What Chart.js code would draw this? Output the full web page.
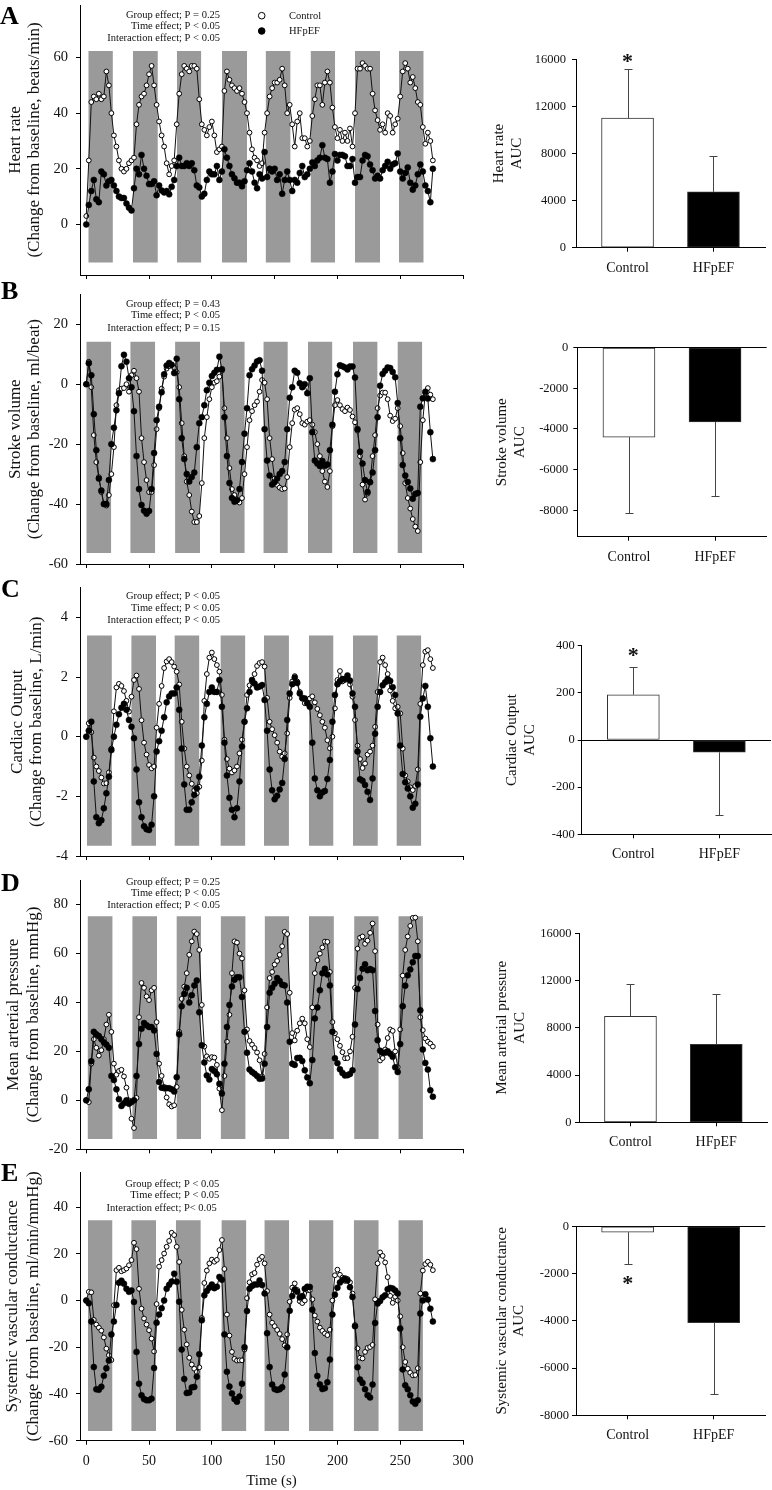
<!DOCTYPE html>
<html><head><meta charset="utf-8">
<script src="https://cdn.jsdelivr.net/npm/chart.js@4.4.1/dist/chart.umd.min.js"></script>
<style>
html,body{margin:0;padding:0;background:#fff;}
body{width:772px;height:1490px;position:relative;overflow:hidden;}
canvas{position:absolute;}
.letter{position:absolute;font:bold 26px "Liberation Serif","Times New Roman",serif;line-height:26px;color:#000;z-index:5;}
</style></head><body>
<canvas id="lA" width="480" height="290" style="left:0;top:0"></canvas>
<canvas id="bA" width="302" height="290" style="left:470px;top:0"></canvas>
<canvas id="lB" width="480" height="290" style="left:0;top:290px"></canvas>
<canvas id="bB" width="302" height="290" style="left:470px;top:290px"></canvas>
<canvas id="lC" width="480" height="290" style="left:0;top:580px"></canvas>
<canvas id="bC" width="302" height="290" style="left:470px;top:580px"></canvas>
<canvas id="lD" width="480" height="290" style="left:0;top:870px"></canvas>
<canvas id="bD" width="302" height="290" style="left:470px;top:870px"></canvas>
<canvas id="lE" width="480" height="330" style="left:0;top:1160px"></canvas>
<canvas id="bE" width="302" height="330" style="left:470px;top:1160px"></canvas>
<div class="letter" style="left:0;top:3px">A</div>
<div class="letter" style="left:1px;top:278px">B</div>
<div class="letter" style="left:1px;top:576px">C</div>
<div class="letter" style="left:1px;top:870px">D</div>
<div class="letter" style="left:1px;top:1160px">E</div>
<script>
const time = [0,2,4,6,8,10,12,14,16,18,20,22,24,26,28,30,32,34,36,38,40,42,44,46,48,50,52,54,56,58,60,62,64,66,68,70,72,74,76,78,80,82,84,86,88,90,92,94,96,98,100,102,104,106,108,110,112,114,116,118,120,122,124,126,128,130,132,134,136,138,140,142,144,146,148,150,152,154,156,158,160,162,164,166,168,170,172,174,176,178,180,182,184,186,188,190,192,194,196,198,200,202,204,206,208,210,212,214,216,218,220,222,224,226,228,230,232,234,236,238,240,242,244,246,248,250,252,254,256,258,260,262,264,266,268,270,272,274,276];

const hrControl = [3,23,44,46,45,47,45,46,55,50,40,32,28,23,20,19,20,22,23,24,36,43,46,47,50,54,57,50,43,37,32,28,22,18,21,23,36,47,54,57,56,55,57,57,56,45,36,34,32,35,37,32,26,27,28,48,55,52,50,49,48,49,47,44,40,33,27,24,23,21,22,33,40,46,49,51,51,52,56,50,40,43,36,28,37,40,31,31,28,30,39,45,50,50,43,51,55,51,42,35,31,34,30,33,30,34.5,28,40,56,56,58,57,56,56,47,41,37.5,34,36,33,40,39,33,36,38,46,55,58,56,51,53,49,44,43,35,29,33,30,23];
const hrHFpEF = [0,7,12,16,9,8,19,18,14,15.5,16,14,12,10,9.5,9.5,7.5,6,5,13,20,18,25,20,17.5,14.5,14.5,15.5,10.5,14,12.2,11.5,12,10.8,13.5,16,21,24,21,21,22,21,22,19.5,14,13.3,10,11,16,19,18,18,21,16,19,27,24,21,18,16.6,15,15,13.7,15.5,19.5,22,19,15,13,18,16.5,26,17,20,19,20,16,18,11,16,19,16,12,16,15,18.5,21,17,18,20,22.3,21,23,24,28.5,24,23.5,15,19,25.3,23,25,25,24.5,21,21,23.5,15,17,17,23,25,24.5,21.5,19.5,16.5,17.5,16.5,19.5,21,22.5,20,21.5,22,25.5,19,16.5,18.5,20.5,15,12.5,14,18,21.5,19,14,12,8,20];

const svControl = [0,7.5,-1,-17,-26,-31,-36,-40,-40.5,-37,-30,-21,-7,-2,-1.5,-1.3,0,-2.5,3,4.5,2,-2.5,-18,-26,-32,-36,-36,-27,-15,-8,-1.5,2.5,5.2,6,6.3,5.5,4,-1,-13,-24,-32.5,-37,-42.5,-46,-46,-44,-33,-18,-11,-5,-1,0.5,1,2.5,4.5,-8,-18,-28,-35,-37,-39,-39.5,-38,-30,-21,-12,-9,-7,-5.8,-2.5,1.4,0.5,-5,-18,-25,-31.5,-33.6,-34.5,-35,-34.8,-31,-21,-13,-8.5,-8,-10,-13,-13.5,-12.5,-12,-13.5,-16,-20,-24,-29,-32.5,-34.3,-29,-14,-7,-5.3,-7,-8.3,-9,-7.8,-8.6,-10.8,-12.7,-15.5,-24,-33.5,-38.5,-36.5,-32.5,-24,-17,-8,-3.8,-2.8,-2.8,-5,-10.5,-12.3,-11.5,-8,-14,-23,-33,-38,-41.5,-45,-47.5,-49,-26,-12,-3,-1.3,-3.5,-5];
const svHFpEF = [0,7,3,-10,-22,-31.5,-35.5,-40,-40,-32,-20,-14.5,-8.7,-3,6,9.8,7.5,2,-1,-9,-24,-35,-40.3,-42.2,-43.2,-42.3,-35,-23,-12,-7.5,-2.7,3.3,6.2,7.1,6.5,3.7,8.5,-5,-18,-25,-30,-32.5,-31,-29.5,-21,-13,-11,-7,-2,0.5,2.7,3.8,4.8,9.2,5,-11,-24,-33,-38,-39.2,-38.7,-35,-26,-16.5,-8,3,5,6.2,7.6,8,4.5,-15,-25.5,-30.5,-33.5,-32.7,-31.5,-30,-29,-26,-15,-4.5,-1,4.5,3.8,0.3,-1,0,-3,2,-16,-25.5,-26.5,-27.3,-25.6,-27.2,-26.8,-22,-13.5,-2.5,3.3,6.3,6,5.6,4.9,5.9,5.9,2.2,-15,-22.5,-26.5,-32,-36,-32.7,-29.5,-22,-11,-0.5,3.4,4.5,5.6,5.4,4.1,2.3,-6.3,-18,-27,-30.5,-32.6,-34.8,-38.2,-36.6,-36.3,-7.5,-4.7,-2.5,-4.8,-16,-25];

const coControl = [0,0.45,0.15,-0.7,-1.0,-1.15,-1.37,-1.57,-1.56,-1.2,-0.4,0.85,1.65,1.77,1.7,1.53,1.2,0.84,1.34,1.9,2.05,1.6,0.55,-0.2,-0.6,-0.95,-1.06,-1.0,0.3,1.1,1.7,2.3,2.52,2.6,2.5,2.35,2.18,1.75,0.5,-0.4,-1.0,-1.3,-1.58,-1.8,-1.9,-1.68,-0.8,1.2,2.1,2.65,2.82,2.6,2.4,2.18,1.4,-0.1,-0.75,-1.07,-1.2,-1.13,-1.0,-0.56,-0.1,0.5,1.4,1.72,1.85,2.1,2.37,2.47,2.5,2.35,1.3,0.5,0.25,0.05,-0.2,-0.5,-0.67,-0.56,0.11,1.3,1.85,2.03,1.85,1.5,1.27,1.12,1.12,1.28,1.35,1.15,0.93,0.72,0.5,0.3,-0.12,-0.39,0,0.95,1.9,2.2,1.85,1.9,2.0,1.75,1.34,0.56,-0.3,-0.75,-1.05,-0.9,-0.6,-0.5,-0.3,0.33,1.5,2.5,2.65,2.4,2.1,1.55,1.2,0.95,1.0,0.78,-0.4,-1.3,-1.5,-1.7,-1.79,-1.65,-1.1,1.1,2.4,2.85,2.9,2.6,2.3];
const coHFpEF = [0,0.2,0.5,-1.5,-2.7,-2.9,-2.8,-2.4,-1.9,-1.34,-0.45,0,0.4,0.75,0.97,1.1,0.9,0.56,0.33,-0.05,-1.1,-2.2,-2.7,-3.0,-3.1,-3.13,-2.95,-2.0,-0.5,-0.15,0.2,0.65,1.15,1.35,1.45,1.45,1.65,0.9,-0.4,-1.6,-2.45,-2.45,-2.2,-1.95,-1.73,-1.34,-0.3,0.65,1.1,1.5,1.65,1.5,1.5,1.9,1.0,-0.2,-1.3,-2.05,-2.45,-2.7,-2.4,-1.5,-0.33,0.5,0.95,1.5,1.9,1.78,1.65,1.68,1.73,1.23,0.2,-1.1,-1.8,-2.1,-1.98,-1.77,-1.55,-0.75,0.56,1.45,1.76,1.98,1.8,1.45,1.3,1.28,1.12,1.0,-0.2,-1.4,-1.8,-2.0,-1.87,-1.82,-1.42,-0.78,0.5,1.4,1.76,1.86,1.93,1.93,2.05,1.88,1.45,1.0,-0.5,-1.43,-1.48,-1.62,-1.85,-2.12,-1.4,0.1,1.0,1.5,1.72,1.82,1.93,1.87,1.66,1.4,0.78,-0.3,-1.25,-1.53,-1.74,-2.0,-2.38,-2.25,-1.6,0.67,1.28,1.7,1.0,-0.05,-1.0];

const mapControl = [0,-0.7,15,25,21.5,18.3,20.5,25,31,35,28,15,10.5,12,12.5,9.8,5.2,0,-7.5,-11.3,1,34,48,46,42.5,41,45,46,32,15,10,5.5,1.2,-1.6,-2.5,-2,5.5,28,41.5,46.5,52,59.5,65,69,68,61.5,39,22,18,17,17.7,17.5,14.5,4.8,-4,10,24,35,52,65,64.5,60,58,45,29,24.3,22.8,21.4,19.6,16.4,9.8,19,38,50,52.5,55.5,57,59.5,63,68.9,68,44,27.5,24.5,28.5,31.5,33.4,31.5,25,21.8,38,52,57.3,60,62.5,64.9,64.8,52.5,32,27.4,25,22.3,19.7,17.2,17.3,20,26,46,62,66.5,67,64,65.3,68.5,72.3,61,31,16.3,17.3,20.8,25.5,29,28.4,20,13.6,29,51,61.5,67,71.3,74.6,74.7,65,34,28.7,25.3,24,23.2,22];
const mapHFpEF = [0,4.5,16,28,27,26.3,25,23.8,22.8,21.5,10,8.3,4.5,0.5,-2.3,-1.2,0,-1.4,-0.7,0,10,23,29.3,31.6,30.7,30,30,28.6,19,7.5,5.2,5,5,5,4.5,3.6,9.5,27,38.5,43.5,46,40,43,47,49,36,22.5,15.5,10.2,8.5,12.8,12,10.7,6.8,2.8,15,30,39,46.5,49.3,50.3,50.3,42.3,28,19.5,12.6,11.6,10.9,10,8.8,8.9,15,30,44,46,47.7,50,48.8,47.3,47,40,24,15,14.5,17.3,17.4,16.1,12.3,9.4,7,16.5,33.5,38,45,52,53.8,51.5,47,28,17.2,15.2,12.7,11.2,10.2,10.3,10.8,12.3,31,45.5,50,53.8,55.6,53.2,53.7,53.2,36.5,24.6,20.3,19.5,19.5,20.1,19.1,17.8,13.5,11.6,23,38.5,46.9,51.1,53.5,56.5,59,59,36.8,20.8,15.3,12.6,4.1,1.5];

const svcControl = [0,3.7,3.5,-8.3,-10.3,-11.6,-12.9,-15.8,-20.6,-23.4,-25.5,-2,13,14,12.5,13,13.7,15.1,17.3,24.7,22,5,-3.5,-7.7,-10.3,-12.7,-16.3,-21.8,-1.5,14.5,17.3,20.1,23,25.5,29,28,23,16.5,-4,-12.5,-18.8,-24.5,-27.4,-29.2,-30.6,-28.6,-7.5,7.5,12.8,15.9,17.5,16.6,17.4,21.6,25.9,13.5,-6,-15,-22,-25,-25.7,-25.6,-25.6,-21,1,7.8,11.2,11.8,15.4,17.7,18.7,15.9,4,-6,-9.5,-11,-12.6,-14.3,-16.5,-19.2,-14.5,-0.5,5.5,7.3,4.5,-0.3,-1.1,0,4.4,4.4,0.5,-6.4,-9,-11.6,-13,-14.1,-14.8,-12.5,0,10.8,13.2,11,9.8,8.4,9.2,7.8,3,-10.5,-20.5,-24.5,-24.8,-22,-20.3,-19.9,-19,0.5,15.9,20.6,19.1,16.3,10,2,-1,1.6,0,-6.8,-20,-26.3,-29.2,-30.9,-32,-31.9,-29,3,12.8,15.6,16.6,15.3,13];
const svcHFpEF = [0,-1.2,-9,-28.5,-38,-38.2,-36.9,-32.2,-29,-25.7,-14.5,-9,-1.9,7.6,8.5,7.2,5,3.7,4.3,-0.6,-22,-35.6,-40.6,-42.2,-42.7,-42.7,-42,-28.9,-9.5,-6,-3.3,0,5,6.7,8.1,11.5,8,-0.5,-21,-33.6,-39.6,-39.4,-37.2,-37,-32.6,-23,-8.5,2.2,4.1,5.5,6.8,5.3,5.9,10.1,8.9,-14.5,-30.5,-36.8,-39.8,-42.2,-43.3,-41.1,-35.6,-20,-4.5,5,6.2,6.9,6.8,8.6,6.6,3,-14,-28.5,-36,-37.9,-38.3,-38,-37.1,-31.7,-20,-4.4,1.9,4.7,3.7,1.3,1.9,5,5.9,5.8,-4,-22.5,-32.3,-35.9,-37.9,-37.5,-35,-25.3,-6,2.5,5.5,7.7,8.8,9.4,8.6,5.7,1.5,-11,-28.6,-33.8,-35.3,-38,-40.5,-41.5,-36,-9.6,-1.3,-0.2,1.4,2.2,4.8,5.4,5.1,4.3,3,-12,-29.5,-36.3,-38,-40.5,-43.2,-44.2,-42.7,-5.6,0,2.7,0.4,-3.5,-9];

// stimulation periods (s) shaded in grey
const stimOnA = [1.6,37.1,72.1,108.1,142.8,178.6,214,249];
const stimOffA = [21.2,57,91.6,128,162.7,198.2,234,268.7];
const stimOnB = [0,35,70.7,106.3,141,176.5,212.3,247.8];
const stimOffB = [19.9,54.9,90.6,126.2,160.5,196,232,267.6];
const stimOnC = [0.5,35.8,70.2,106.8,141.5,177.3,212.3,247];
const stimOffC = [20.4,55.6,90.1,126.7,161.4,196.9,232.2,266.8];
const stimOnD = [1,36.6,71.8,107,142,177.3,213.3,248.5];
const stimOffD = [21,56.4,91.4,126.9,161.6,197.2,232.9,268.1];
const stimOnE = [1.3,35.8,71.3,107.6,141.8,177.3,213,248.5];
const stimOffE = [20.9,55.6,91.2,127.5,161.6,196.9,232.9,268.1];

const groups = ['Control','HFpEF'];
const hrAUC = [11000,4750], hrAUCErr = [4200,3000];
const svAUC = [-4400,-3650], svAUCErr = [3750,3650];
const coAUC = [192,-52], coAUCErr = [118,268];
const mapAUC = [8970,6600], mapAUCErr = [2760,4260];
const svcAUC = [-250,-4080], svcAUCErr = [1350,3010];

const timeTicks = [0,50,100,150,200,250,300];
const hrTicks = [0,20,40,60];
const svTicks = [-60,-40,-20,0,20];
const coTicks = [-4,-2,0,2,4];
const mapTicks = [-20,0,20,40,60,80];
const svcTicks = [-60,-40,-20,0,20,40];
const hrAUCTicks = [0,4000,8000,12000,16000];
const svAUCTicks = [-8000,-6000,-4000,-2000,0];
const coAUCTicks = [-400,-200,0,200,400];
const mapAUCTicks = [0,4000,8000,12000,16000];
const svcAUCTicks = [-8000,-6000,-4000,-2000,0];

Chart.defaults.font.family = '"Liberation Serif","Times New Roman",serif';
Chart.defaults.color = '#111';

const annotPlugin = {
  id: 'annot',
  afterDraw(chart, args, opts) {
    const ctx = chart.ctx;
    ctx.save();
    (opts.markers || []).forEach(m => {
      ctx.beginPath(); ctx.arc(m.x, m.y, m.r, 0, Math.PI * 2);
      ctx.fillStyle = m.fill; ctx.fill();
      ctx.lineWidth = 1; ctx.strokeStyle = '#000'; ctx.stroke();
    });
    (opts.texts || []).forEach(t => {
      ctx.font = t.font || '10.5px "Liberation Serif"';
      ctx.fillStyle = '#111';
      ctx.textAlign = t.align || 'right';
      ctx.textBaseline = 'middle';
      ctx.fillText(t.text, t.x, t.y);
    });
    ctx.restore();
  }
};

const errPlugin = {
  id: 'errbars',
  afterDatasetsDraw(chart, args, opts) {
    const ctx = chart.ctx, xs = chart.scales.x, ys = chart.scales.y;
    ctx.save();
    ctx.strokeStyle = '#444'; ctx.lineWidth = 1;
    for (let i = 0; i < opts.values.length; i++) {
      const v = opts.values[i], e = opts.errors[i];
      const px = Math.round(xs.getPixelForValue(i)) + 0.5;
      const sgn = v >= 0 ? 1 : -1;
      const y0 = ys.getPixelForValue(v), y1 = Math.round(ys.getPixelForValue(v + sgn * e)) + 0.5;
      ctx.beginPath();
      ctx.moveTo(px, y0); ctx.lineTo(px, y1);
      ctx.moveTo(px - 4, y1); ctx.lineTo(px + 4, y1);
      ctx.stroke();
    }
    if (opts.star) {
      ctx.font = 'bold 22px "Liberation Serif"';
      ctx.fillStyle = '#111'; ctx.textAlign = 'center'; ctx.textBaseline = 'alphabetic';
      ctx.fillText('*', xs.getPixelForValue(opts.star.index), ys.getPixelForValue(opts.star.value) + 11);
    }
    ctx.restore();
  }
};

function zeroPad(s) { s.paddingTop = 0; s.paddingBottom = 0; s.paddingLeft = 0; s.paddingRight = 0; }

function lineChart(id, o) {
  const pts = arr => time.map((t, i) => ({x: t, y: arr[i]}));
  const stim = o.on.map((a, i) => ({
    data: [{x: a, y: o.top}, {x: o.off[i], y: o.top}],
    borderColor: 'rgba(0,0,0,0)', borderWidth: 0, backgroundColor: '#9a9a9a',
    pointRadius: 0, fill: {value: o.bottom}, order: 3
  }));
  const statsY = o.statsY;
  const texts = o.stats.map((s, i) => ({text: s, x: o.statsX[i], y: statsY[i], align: 'right'}));
  const markers = [];
  if (o.legend) {
    markers.push({x: 261.7, y: 15.7, r: 3.3, fill: '#fff'}, {x: 261.7, y: 31, r: 3.3, fill: '#000'});
    texts.push({text: 'Control', x: 289, y: 16.5, align: 'left'}, {text: 'HFpEF', x: 289, y: 31, align: 'left'});
  }
  new Chart(document.getElementById(id), {
    type: 'line',
    data: {datasets: [
      {label: 'HFpEF', data: pts(o.hf), borderColor: '#111', borderWidth: 1, pointRadius: 3,
       pointBackgroundColor: '#000', pointBorderColor: '#000', pointBorderWidth: 0.5, order: 1, tension: 0},
      {label: 'Control', data: pts(o.ctrl), borderColor: '#111', borderWidth: 1, pointRadius: 2.4,
       pointBackgroundColor: '#fff', pointBorderColor: '#000', pointBorderWidth: 1, order: 2, tension: 0},
      ...stim
    ]},
    options: {
      responsive: false, animation: false, events: [],
      layout: {autoPadding: false, padding: {left: 0, top: o.padTop, right: 17, bottom: 0}},
      plugins: {legend: {display: false}, tooltip: {enabled: false}, annot: {texts, markers}},
      scales: {
        x: {type: 'linear', min: -5, max: 300,
          afterBuildTicks: s => { s.ticks = timeTicks.map(v => ({value: v})); },
          afterFit: s => { s.height = o.xH; zeroPad(s); },
          grid: {drawOnChartArea: false, drawTicks: true, tickLength: 4, color: '#000', tickColor: '#000', tickWidth: 1},
          border: {display: true, color: '#000', width: 1},
          ticks: {display: !!o.xLabels, padding: 8.6, autoSkip: false, maxRotation: 0, font: {size: 14}, color: '#111', callback: v => String(v)},
          title: {display: !!o.xLabels, text: 'Time (s)', font: {size: 15}, color: '#111', padding: {top: 0, bottom: 0}}
        },
        y: {type: 'linear', min: o.yMin, max: o.yMax,
          afterBuildTicks: s => { s.ticks = o.yTicks.map(v => ({value: v})); },
          afterFit: s => { s.width = 80; zeroPad(s); },
          grid: {drawOnChartArea: false, drawTicks: true, tickLength: 4, color: '#000', tickColor: '#000', tickWidth: 1},
          border: {display: true, color: '#000', width: 1},
          ticks: {padding: 8, font: {size: 14.5}, color: '#111', callback: v => String(v)},
          title: {display: true, text: o.title, font: {size: 17, lineHeight: o.titleLH}, color: '#111', padding: {top: o.titlePad, bottom: 0}}
        }
      }
    },
    plugins: [annotPlugin]
  });
}

function barChart(id, o) {
  new Chart(document.getElementById(id), {
    type: 'bar',
    data: {datasets: [{
      data: groups.map((g, i) => ({x: i, y: o.vals[i]})),
      backgroundColor: ['#ffffff', '#000000'], borderColor: '#333', borderWidth: 1,
      borderSkipped: false, barThickness: 52
    }]},
    options: {
      responsive: false, animation: false, events: [],
      layout: {autoPadding: false, padding: {left: 0, top: o.top, right: o.right, bottom: 0}},
      plugins: {legend: {display: false}, tooltip: {enabled: false}, errbars: {values: o.vals, errors: o.errs, star: o.star || false}},
      scales: {
        x: {type: 'linear', min: -0.6, max: 1.6, offset: false,
          afterBuildTicks: s => { s.ticks = groups.map((g, i) => ({value: i})); },
          afterFit: s => { s.height = o.xH; zeroPad(s); },
          grid: {offset: false, drawOnChartArea: false, drawTicks: true, tickLength: 4, color: '#000', tickColor: '#000'},
          border: {display: true, color: '#000', width: 1},
          ticks: {padding: 8, autoSkip: false, maxRotation: 0, font: {size: 14}, color: '#111', callback: v => groups[Math.round(v)]}
        },
        y: {type: 'linear', min: o.yMin, max: o.yMax,
          afterBuildTicks: s => { s.ticks = o.yTicks.map(v => ({value: v})); },
          afterFit: s => { s.width = o.yW; zeroPad(s); },
          grid: {drawOnChartArea: true, drawTicks: true, tickLength: 4, tickColor: '#000',
                 color: c => (c.tick && c.tick.value === 0) ? '#000' : 'rgba(0,0,0,0)'},
          border: {display: true, color: '#000', width: 1},
          ticks: {padding: o.tickPad, font: {size: 12.5}, color: '#111', callback: v => String(v)},
          title: {display: true, text: o.title, font: {size: 15, lineHeight: 1.1667}, color: '#111', padding: {top: o.titlePad, bottom: 0}}
        }
      }
    },
    plugins: [errPlugin]
  });
}

lineChart('lA', {ctrl: hrControl, hf: hrHFpEF, on: stimOnA, off: stimOffA, top: 62.4, bottom: -13.7,
  yMin: -18.2, yMax: 78.9, yTicks: hrTicks, padTop: 5, xH: 15,
  title: ['Heart rate', '(Change from baseline, beats/min)'], titlePad: 6, titleLH: 1.135,
  stats: ['Group effect; P = 0.25', 'Time effect; P < 0.05', 'Interaction effect; P < 0.05'],
  statsX: [220, 220, 220], statsY: [15, 26.3, 38.7], legend: true});
lineChart('lB', {ctrl: svControl, hf: svHFpEF, on: stimOnB, off: stimOffB, top: 14.2, bottom: -56.3,
  yMin: -60, yMax: 30, yTicks: svTicks, padTop: 4.3, xH: 16,
  title: ['Stroke volume', '(Change from baseline, ml/beat)'], titlePad: 6, titleLH: 1.1,
  stats: ['Group effect; P = 0.43', 'Time effect; P < 0.05', 'Interaction effect; P = 0.15'],
  statsX: [220, 220, 220], statsY: [14, 25.3, 38]});
lineChart('lC', {ctrl: coControl, hf: coHFpEF, on: stimOnC, off: stimOffC, top: 3.39, bottom: -3.66,
  yMin: -4, yMax: 5, yTicks: coTicks, padTop: 7.5, xH: 14,
  title: ['Cardiac Output', '(Change from baseline, L/min)'], titlePad: 8, titleLH: 1.1,
  stats: ['Group effect; P < 0.05', 'Time effect; P < 0.05', 'Interaction effect; P < 0.05'],
  statsX: [220, 220, 220], statsY: [16, 28, 40.7]});
lineChart('lD', {ctrl: mapControl, hf: mapHFpEF, on: stimOnD, off: stimOffD, top: 75.3, bottom: -15.8,
  yMin: -20, yMax: 90, yTicks: mapTicks, padTop: 10.2, xH: 10.7,
  title: ['Mean arterial pressure', '(Change from baseline, mmHg)'], titlePad: 4.5, titleLH: 1.12,
  stats: ['Group effect; P = 0.25', 'Time effect; P < 0.05', 'Interaction effect; P < 0.05'],
  statsX: [220, 220, 220], statsY: [12, 23.3, 35.3]});
lineChart('lE', {ctrl: svcControl, hf: svcHFpEF, on: stimOnE, off: stimOffE, top: 34.4, bottom: -55.9,
  yMin: -60, yMax: 55, yTicks: svcTicks, padTop: 12, xH: 49.3, xLabels: true,
  title: ['Systemic vascular conductance', '(Change from baseline, ml/min/mmHg)'], titlePad: 2.5, titleLH: 1.2,
  stats: ['Group effect; P < 0.05', 'Time effect; P < 0.05', 'Interaction effect; P< 0.05'],
  statsX: [219.3, 219.3, 216.7], statsY: [24, 35.7, 48.3]});

barChart('bA', {vals: hrAUC, errs: hrAUCErr, yMin: 0, yMax: 16000, yTicks: hrAUCTicks, top: 59.3, right: 7, xH: 42.3, yW: 106,
  tickPad: 6, title: ['Heart rate', 'AUC'], titlePad: 20.4, star: {index: 0, value: 16170}});
barChart('bB', {vals: svAUC, errs: svAUCErr, yMin: -9300, yMax: 0, yTicks: svAUCTicks, top: 57.7, right: 5.3, xH: 43.3, yW: 107.3,
  tickPad: 5, title: ['Stroke volume', 'AUC'], titlePad: 23.75});
barChart('bC', {vals: coAUC, errs: coAUCErr, yMin: -400, yMax: 400, yTicks: coAUCTicks, top: 65.7, right: 1, xH: 35.7, yW: 111.7,
  tickPad: 3, title: ['Cardiac Output', 'AUC'], titlePad: 33.75, star: {index: 0, value: 378}});
barChart('bD', {vals: mapAUC, errs: mapAUCErr, yMin: 0, yMax: 16000, yTicks: mapAUCTicks, top: 63.3, right: 4.3, xH: 37.7, yW: 109,
  tickPad: 3.5, title: ['Mean arterial pressure', 'AUC'], titlePad: 23.75});
barChart('bE', {vals: svcAUC, errs: svcAUCErr, yMin: -8000, yMax: 0, yTicks: svcAUCTicks, top: 66.3, right: 6.7, xH: 74.7, yW: 106,
  tickPad: 3, title: ['Systemic vascular conductance', 'AUC'], titlePad: 23.25, star: {index: 0, value: -2240}});
</script>
</body></html>
